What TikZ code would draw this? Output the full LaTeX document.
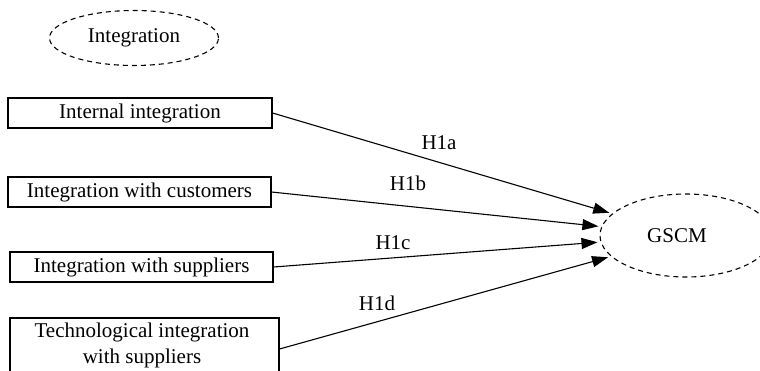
\documentclass[tikz,border=0pt]{standalone}
\usepackage{fontspec}
\setmainfont{Liberation Serif}
\usetikzlibrary{shapes.geometric,arrows.meta}
\begin{document}
\begin{tikzpicture}[x=1pt,y=-1pt,
  font=\fontsize{21}{26}\selectfont,
  every node/.style={inner sep=0pt},
  box/.style={draw,line width=1.1pt,rectangle,minimum height=30pt},
  oval/.style={draw,ellipse,line width=1.1pt,dash pattern=on 5pt off 4pt},
  arr/.style={line width=1.1pt,-{Triangle[length=16pt,width=11pt]},shorten >=3pt},
  lab/.style={}
]
\useasboundingbox (0,0) rectangle (760,370);
\clip (0,0) rectangle (760,370);
\node[oval,minimum width=169pt,minimum height=55pt] (integ) at (134,38) {Integration};
\node[oval,minimum width=172pt,minimum height=83pt] (gscm) at (686,235.5) {\hspace*{-18pt}GSCM};
\node[box,minimum width=264pt] (int) at (140,113) {Internal integration};
\node[box,minimum width=263pt] (cust) at (139.5,192) {Integration with customers};
\node[box,minimum width=263pt] (supp) at (141.5,267) {Integration with suppliers};
\node[box,minimum width=269pt,minimum height=62pt] (tech) at (144.5,349) {};
\node[align=center] (techtxt) at (142,345.5) {Technological integration\\with suppliers};
\draw[arr] (tech.east) -- (gscm);
\draw[arr] (int.east) -- (gscm);
\draw[arr] (cust.east) -- (gscm);
\draw[arr] (supp.east) -- (gscm);
\node[lab] (la) at (439,143) {H1a};
\node[lab] (lb) at (408,183) {H1b};
\node[lab] (lc) at (393,243) {H1c};
\node[lab] (ld) at (377,303) {H1d};
\end{tikzpicture}
\end{document}
